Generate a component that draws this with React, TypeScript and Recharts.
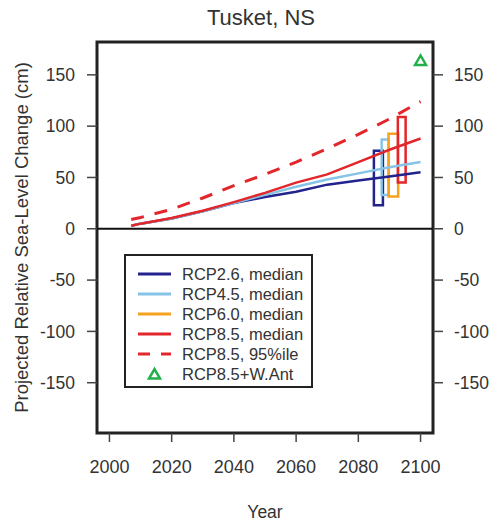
import {
  ComposedChart,
  Line,
  Scatter,
  XAxis,
  YAxis,
  ReferenceArea,
  ReferenceLine,
  Legend,
} from "recharts";

// median / 95th percentile projections (cm)
const years = [2007, 2010, 2020, 2030, 2040, 2050, 2060, 2070, 2080, 2090, 2100];
const rcp26 = [3, 5, 10, 17, 25, 31, 36, 43, 47, 51, 55];
const rcp45 = [3, 5, 10, 17, 25, 33, 41, 48, 54, 60, 65];
const rcp85 = [3, 5, 10.5, 17.5, 26, 35, 45, 53, 65, 77, 88];
const rcp85p95 = [9, 11, 19, 30, 42, 53, 65, 78, 92, 107, 124];

// 2100 likely ranges drawn as open boxes
const boxColors = ["#23238e", "#86c3e6", "#f5a21e", "#e3262b"];
const boxStart = [2085, 2087.5, 2089.7, 2092.7];
const boxEnd = [2087.9, 2089.8, 2092.8, 2095.2];
const boxLow = [23, 33, 31.5, 45];
const boxHigh = [76, 87, 92.5, 109];

const wAntYears = [2100];
const wAntValues = [164];

const legendItems = [
  { label: "RCP2.6, median", color: "#23238e", kind: "line" },
  { label: "RCP4.5, median", color: "#86c3e6", kind: "line" },
  { label: "RCP6.0, median", color: "#f5a21e", kind: "line" },
  { label: "RCP8.5, median", color: "#e3262b", kind: "line" },
  { label: "RCP8.5, 95%ile", color: "#e3262b", kind: "dash" },
  { label: "RCP8.5+W.Ant", color: "#22b04b", kind: "tri" },
];

const X_DOMAIN = [1996, 2104];
const Y_DOMAIN = [-199, 182];
const FONT = "'Liberation Sans', Arial, sans-serif";

const data = years.map((year, i) => ({
  year,
  rcp26: rcp26[i],
  rcp45: rcp45[i],
  rcp85: rcp85[i],
  rcp85p95: rcp85p95[i],
}));

const wAnt = wAntYears.map((year, i) => ({ year, value: wAntValues[i] }));

function Triangle(props: any) {
  const { cx, cy } = props;
  if (cx == null || cy == null) return null;
  return (
    <polygon
      points={`${cx - 5.5},${cy + 4.5} ${cx + 5.5},${cy + 4.5} ${cx},${cy - 5}`}
      fill="none"
      stroke="#22b04b"
      strokeWidth={2.5}
      strokeLinejoin="miter"
    />
  );
}

function LegendBox() {
  return (
    <div
      style={{
        width: 189,
        height: 134,
        boxSizing: "border-box",
        border: "2.5px solid #222",
        background: "#fff",
        paddingTop: 8,
        fontFamily: FONT,
        fontSize: 16.5,
        color: "#333",
      }}
    >
      {legendItems.map((item) => (
        <div
          key={item.label}
          style={{ display: "flex", alignItems: "center", height: 20 }}
        >
          <svg width={56} height={20} style={{ flex: "none" }}>
            {item.kind === "line" && (
              <line x1={12} x2={45} y1={10} y2={10} stroke={item.color} strokeWidth={3} />
            )}
            {item.kind === "dash" && (
              <line
                x1={12}
                x2={45}
                y1={10}
                y2={10}
                stroke={item.color}
                strokeWidth={3}
                strokeDasharray="12 11"
              />
            )}
            {item.kind === "tri" && (
              <polygon
                points="23,14.5 34,14.5 28.5,5"
                fill="none"
                stroke={item.color}
                strokeWidth={2.5}
              />
            )}
          </svg>
          <span style={{ whiteSpace: "nowrap" }}>{item.label}</span>
        </div>
      ))}
    </div>
  );
}

export default function App() {
  const tickStyle = { fill: "#333", fontSize: 17.5, fontFamily: FONT };
  return (
    <div
      style={{
        position: "absolute",
        left: 0,
        top: 0,
        width: 495,
        height: 525,
        background: "#fff",
        fontFamily: FONT,
      }}
    >
      <div
        style={{
          position: "absolute",
          left: 0,
          width: 522,
          top: 5,
          textAlign: "center",
          fontSize: 22,
          color: "#333",
        }}
      >
        Tusket, NS
      </div>
      <ComposedChart
        width={495}
        height={525}
        data={data}
        margin={{ top: 42, right: 12, bottom: 52, left: 37 }}
      >
        <XAxis
          dataKey="year"
          type="number"
          domain={X_DOMAIN}
          ticks={[2000, 2020, 2040, 2060, 2080, 2100]}
          allowDataOverflow
          axisLine={false}
          tickSize={9}
          tickMargin={18}
          tickLine={{ stroke: "#444", strokeWidth: 1.5 }}
          tick={{ ...tickStyle, fontSize: 18 }}
          height={40}
          label={({ viewBox }: any) => (
            <text
              x={viewBox.x + viewBox.width / 2}
              y={512}
              textAnchor="middle"
              dominantBaseline="central"
              fill="#333"
              fontSize={17.5}
              fontFamily={FONT}
            >
              Year
            </text>
          )}
        />
        <YAxis
          yAxisId="left"
          type="number"
          domain={Y_DOMAIN}
          ticks={[-150, -100, -50, 0, 50, 100, 150]}
          allowDataOverflow
          axisLine={false}
          width={60}
          tickSize={10}
          tickMargin={12}
          tickLine={{ stroke: "#444", strokeWidth: 1.5 }}
          tick={tickStyle}
          label={({ viewBox }: any) => {
            const cy = viewBox.y + viewBox.height / 2;
            return (
              <text
                x={21}
                y={cy}
                transform={`rotate(-90, 21, ${cy})`}
                textAnchor="middle"
                dominantBaseline="central"
                fill="#333"
                fontSize={18.5}
                fontFamily={FONT}
              >
                Projected Relative Sea-Level Change (cm)
              </text>
            );
          }}
        />
        <YAxis
          yAxisId="right"
          orientation="right"
          type="number"
          domain={Y_DOMAIN}
          ticks={[-150, -100, -50, 0, 50, 100, 150]}
          allowDataOverflow
          axisLine={false}
          width={50}
          tickSize={10}
          tickMargin={11}
          tickLine={{ stroke: "#444", strokeWidth: 1.5 }}
          tick={{ ...tickStyle, textAnchor: "start" }}
        />
        <ReferenceLine yAxisId="left" y={0} stroke="#111" strokeWidth={2} />
        {boxColors.map((color, i) => (
          <ReferenceArea
            key={i}
            yAxisId="left"
            x1={boxStart[i]}
            x2={boxEnd[i]}
            y1={boxLow[i]}
            y2={boxHigh[i]}
            fill="none"
            fillOpacity={0}
            stroke={color}
            strokeWidth={2.5}
          />
        ))}
        <Line
          yAxisId="left"
          dataKey="rcp26"
          stroke="#23238e"
          strokeWidth={2.5}
          dot={false}
          isAnimationActive={false}
        />
        <Line
          yAxisId="left"
          dataKey="rcp45"
          stroke="#86c3e6"
          strokeWidth={2.5}
          dot={false}
          isAnimationActive={false}
        />
        <Line
          yAxisId="left"
          dataKey="rcp85"
          stroke="#e3262b"
          strokeWidth={2.5}
          dot={false}
          isAnimationActive={false}
        />
        <Line
          yAxisId="left"
          dataKey="rcp85p95"
          stroke="#e3262b"
          strokeWidth={3}
          strokeDasharray="13 11"
          dot={false}
          isAnimationActive={false}
        />
        <Scatter
          yAxisId="left"
          data={wAnt}
          dataKey="value"
          shape={<Triangle />}
          isAnimationActive={false}
        />
        <ReferenceArea
          yAxisId="left"
          x1={X_DOMAIN[0]}
          x2={X_DOMAIN[1]}
          y1={Y_DOMAIN[0]}
          y2={Y_DOMAIN[1]}
          fill="none"
          fillOpacity={0}
          stroke="#222"
          strokeWidth={3}
        />
        <Legend
          layout="vertical"
          align="center"
          verticalAlign="middle"
          wrapperStyle={{ position: "absolute", left: 124, top: 254, width: 189 }}
          content={() => <LegendBox />}
        />
      </ComposedChart>
    </div>
  );
}
